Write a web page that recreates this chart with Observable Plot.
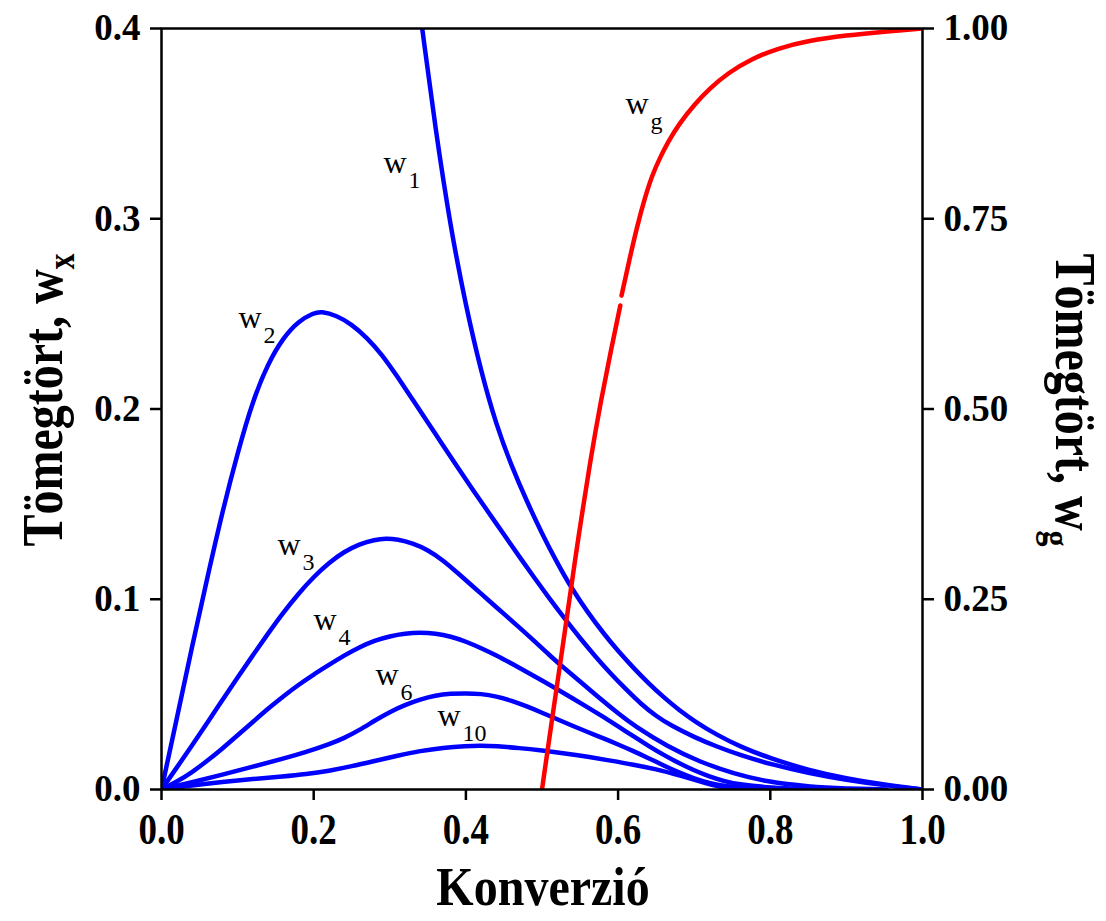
<!DOCTYPE html>
<html><head><meta charset="utf-8">
<script src="https://cdn.jsdelivr.net/npm/d3@7"></script>
<script src="https://cdn.jsdelivr.net/npm/@observablehq/plot@0.6"></script>
<style>
body{margin:0;background:#fff;}
svg text{font-family:"Liberation Serif","Times New Roman",serif;}
g[aria-label="y-axis tick label"] text{font-size:37px;font-weight:bold;fill:#000;}
g[aria-label="x-axis tick label"] text{font-size:37px;font-weight:bold;fill:#000;}
</style></head><body><div id="chart"></div>
<script>
// ---- data ----
const xTicks = [0, 0.2, 0.4, 0.6, 0.8, 1.0];
const leftTicks = [0, 0.1, 0.2, 0.3, 0.4];
const rightTicks = [0, 0.25, 0.5, 0.75, 1.0];

const alpha1 = [0.3426,0.36,0.38,0.40,0.42,0.44,0.46,0.48,0.50,0.52,0.54,0.56,0.58,0.60,0.62,0.64,0.66,0.68,0.70,0.73,0.76,0.80,0.85,0.90,0.95,1.0];
const w1     = [0.400,0.347,0.295,0.254,0.2195,0.1915,0.170,0.1515,0.1345,0.119,0.105,0.0932,0.0825,0.0727,0.0640,0.0558,0.0484,0.0418,0.0360,0.0286,0.0226,0.0163,0.0102,0.0058,0.0025,0];

const alpha2 = [0,0.02,0.04,0.06,0.08,0.10,0.12,0.14,0.16,0.18,0.20,0.21,0.23,0.25,0.27,0.29,0.31,0.33,0.35,0.37,0.39,0.41,0.43,0.45,0.47,0.49,0.51,0.53,0.55,0.57,0.59,0.61,0.63,0.65,0.67,0.70,0.73,0.76,0.80,0.85,0.90,0.95,1.0];
const w2     = [0,0.037,0.075,0.111,0.146,0.177,0.2045,0.224,0.2375,0.2462,0.2505,0.2513,0.2492,0.2445,0.2375,0.2285,0.2170,0.2050,0.1930,0.1808,0.1688,0.1570,0.1455,0.1340,0.1225,0.1112,0.1003,0.0897,0.0795,0.0700,0.0610,0.0528,0.0450,0.0385,0.0335,0.0275,0.0225,0.0181,0.0133,0.0086,0.0050,0.0022,0];

const alpha3 = [0,0.02,0.04,0.06,0.08,0.10,0.12,0.14,0.16,0.18,0.20,0.22,0.24,0.26,0.28,0.295,0.31,0.33,0.35,0.37,0.39,0.41,0.43,0.45,0.47,0.49,0.51,0.53,0.55,0.577,0.60,0.621,0.665,0.708,0.752,0.796,0.85,0.90,0.953];
const w3     = [0,0.0115,0.023,0.035,0.047,0.059,0.0705,0.0820,0.0930,0.1030,0.1118,0.1192,0.1250,0.1290,0.1313,0.132,0.1315,0.1295,0.1260,0.1205,0.1135,0.1065,0.0993,0.0923,0.0852,0.078,0.0705,0.0635,0.0568,0.0475,0.0400,0.0335,0.0225,0.0144,0.0083,0.0040,0.0015,0.0005,0];

const alpha4 = [0,0.02,0.04,0.06,0.08,0.10,0.12,0.14,0.16,0.18,0.20,0.22,0.24,0.26,0.28,0.30,0.32,0.34,0.36,0.38,0.40,0.42,0.44,0.46,0.48,0.50,0.52,0.54,0.56,0.58,0.60,0.62,0.64,0.66,0.68,0.70,0.72,0.74,0.76,0.80,0.853];
const w4     = [0,0.004,0.009,0.0150,0.0215,0.0285,0.0355,0.0425,0.049,0.0550,0.0605,0.0655,0.0705,0.0748,0.0783,0.0806,0.0820,0.0825,0.0820,0.0805,0.0778,0.0743,0.0705,0.0662,0.0618,0.0573,0.0527,0.0480,0.0432,0.0383,0.0332,0.0280,0.0229,0.0181,0.0138,0.0100,0.0068,0.0043,0.0026,0.0010,0];

const alpha6 = [0,0.04,0.08,0.12,0.16,0.19,0.22,0.24,0.26,0.28,0.30,0.32,0.34,0.36,0.38,0.40,0.42,0.44,0.46,0.48,0.50,0.52,0.54,0.56,0.58,0.60,0.62,0.64,0.66,0.68,0.70,0.72,0.74,0.77,0.8025];
const w6     = [0,0.0038,0.0078,0.0120,0.0162,0.0197,0.0237,0.0270,0.0312,0.0362,0.0408,0.0445,0.0474,0.0495,0.0504,0.0506,0.0503,0.0490,0.0467,0.0437,0.0404,0.0369,0.0335,0.0302,0.0270,0.0237,0.0202,0.0165,0.0126,0.0089,0.0057,0.0033,0.0018,0.0006,0];

const alpha10 = [0,0.04,0.08,0.12,0.16,0.19,0.22,0.25,0.28,0.31,0.34,0.37,0.40,0.42,0.44,0.47,0.50,0.53,0.56,0.59,0.62,0.65,0.68,0.71,0.73,0.754];
const w10     = [0,0.0022,0.0040,0.0055,0.0068,0.0080,0.0098,0.0122,0.0150,0.0178,0.0203,0.0220,0.0229,0.0231,0.0228,0.0218,0.0205,0.0190,0.0172,0.0152,0.0131,0.0107,0.0075,0.0040,0.0018,0];

// gel fraction (right axis, 0..1); drawn in two pieces like the original
const alphaGa = [0.5,0.515,0.53,0.5446,0.5512,0.5643,0.5774,0.5906,0.6029];
const wgA     = [0,0.105,0.207,0.31,0.353,0.437,0.511,0.577,0.636];
const alphaGb = [0.6045,0.615,0.625,0.635,0.645,0.655,0.665,0.68,0.70,0.72,0.745,0.775,0.81,0.85,0.90,0.95,1.0];
const wgB     = [0.649,0.697,0.740,0.777,0.808,0.830,0.850,0.8745,0.900,0.921,0.942,0.960,0.974,0.984,0.991,0.996,1.0];

const labels = [
  {x:0.2917, y:0.3238, sub:"1"},
  {x:0.1012, y:0.2428, sub:"2"},
  {x:0.1524, y:0.1230, sub:"3"},
  {x:0.1997, y:0.0836, sub:"4"},
  {x:0.2812, y:0.0547, sub:"6"},
  {x:0.3627, y:0.0336, sub:"10"},
  {x:0.6097, y:0.3553, sub:"g"}
];

const SCALE = 0.4; // right axis 0..1 maps to left axis 0..0.4

function rows(name, xs, ys, k = 1) { return xs.map((a, i) => ({s: name, a, v: ys[i] * k})); }
const blueRows = [
  ...rows("w1", alpha1, w1), ...rows("w2", alpha2, w2), ...rows("w3", alpha3, w3),
  ...rows("w4", alpha4, w4), ...rows("w6", alpha6, w6), ...rows("w10", alpha10, w10)
];
const redRows = [...rows("gA", alphaGa, wgA, SCALE), ...rows("gB", alphaGb, wgB, SCALE)];

const plot = Plot.plot({
  width: 1106, height: 921,
  marginLeft: 161, marginRight: 184, marginTop: 28, marginBottom: 132,
  x: {domain: [0, 1]},
  y: {domain: [0, 0.4]},
  style: {background: "#fff"},
  marks: [
    Plot.line(blueRows, {x: "a", y: "v", z: "s", stroke: "#0000ff", strokeWidth: 4.5, curve: "basis", clip: true}),
    Plot.line(redRows, {x: "a", y: "v", z: "s", stroke: "#ff0000", strokeWidth: 4.5, curve: "basis", clip: true}),
    Plot.axisX({ticks: xTicks, tickFormat: d3.format(".1f"), tickSize: 11, tickPadding: 12, strokeWidth: 2.5, label: null}),
    Plot.axisY({anchor: "left", ticks: leftTicks, tickFormat: d3.format(".1f"), tickSize: 11, tickPadding: 10, strokeWidth: 2.5, label: null}),
    Plot.axisY({anchor: "right", ticks: rightTicks.map(t => t * SCALE), tickFormat: d => (d / SCALE).toFixed(2), tickSize: 11, tickPadding: 10, strokeWidth: 2.5, label: null}),
    Plot.frame({stroke: "#000", strokeWidth: 2.5}),
    Plot.text(labels, {x: "x", y: "y", text: () => "w", textAnchor: "start", lineAnchor: "bottom", fontSize: 32, fontFamily: "Liberation Serif", fill: "#000"}),
    Plot.text(labels, {x: "x", y: "y", text: "sub", dx: 25, dy: 15, textAnchor: "start", lineAnchor: "bottom", fontSize: 24, fontFamily: "Liberation Serif", fill: "#000"})
  ]
});

// taller x tick labels like the original
plot.querySelectorAll('g[aria-label="x-axis tick label"] text').forEach(t => {
  const tr = t.getAttribute("transform");
  if (tr) t.setAttribute("transform", tr + " scale(1,1.2)");
});

// axis titles
const svg = d3.select(plot);
function title(tr, main, sub) {
  const t = svg.append("text").attr("transform", tr)
    .attr("text-anchor", "middle").attr("font-size", 48).attr("font-weight", "bold")
    .attr("font-family", "Liberation Serif").attr("fill", "#000");
  t.append("tspan").text(main);
  if (sub) t.append("tspan").attr("font-size", 32).attr("dy", 10).text(sub);
}
title("translate(62,400) rotate(-90) scale(1,1.2)", "Tömegtört, w", "x");
title("translate(1056,400) rotate(90) scale(1,1.2)", "Tömegtört, w", "g");
title("translate(543,905) scale(1,1.15)", "Konverzió", null);

document.getElementById("chart").appendChild(plot);
</script></body></html>
